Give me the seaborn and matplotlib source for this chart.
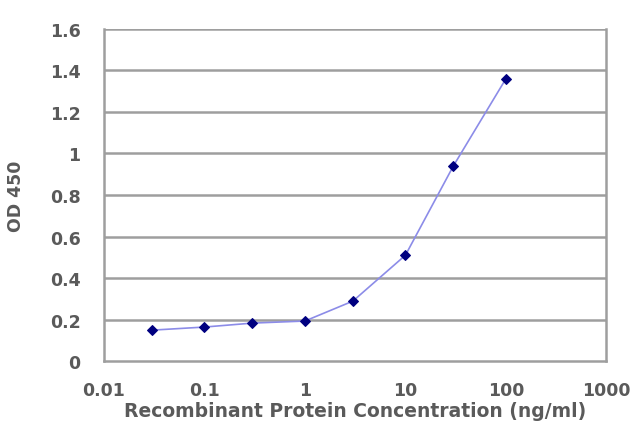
import matplotlib
matplotlib.use("Agg")
import matplotlib.pyplot as plt
import matplotlib.ticker as mticker
import seaborn as sns
import pandas as pd

concentration = [0.03, 0.1, 0.3, 1, 3, 10, 30, 100]
od450 = [0.149, 0.164, 0.183, 0.193, 0.289, 0.51, 0.94, 1.36]
x_ticks = [0.01, 0.1, 1, 10, 100, 1000]
x_tick_labels = ["0.01", "0.1", "1", "10", "100", "1000"]
y_ticks = [0, 0.2, 0.4, 0.6, 0.8, 1.0, 1.2, 1.4, 1.6]
y_tick_labels = ["0", "0.2", "0.4", "0.6", "0.8", "1", "1.2", "1.4", "1.6"]

df = pd.DataFrame({"conc": concentration, "od": od450})

sns.set_style("white")
plt.rcParams['font.family'] = ['DejaVu Sans']

fig = plt.figure(figsize=(6.4, 4.27), dpi=100)
ax = fig.add_axes([0.1625, 0.152, 0.785, 0.778])

ax.set_xscale("log")
sns.lineplot(data=df, x="conc", y="od", ax=ax, color="#8c8ce8", linewidth=1.2,
             marker="D", markersize=5.5, markerfacecolor="#000080",
             markeredgecolor="#000080")

ax.set_xlim(0.01, 1000)
ax.set_ylim(0, 1.6)
ax.set_xticks(x_ticks)
ax.xaxis.set_major_formatter(mticker.FixedFormatter(x_tick_labels))
ax.xaxis.set_minor_locator(mticker.NullLocator())
ax.set_yticks(y_ticks)
ax.set_yticklabels(y_tick_labels)

for y in y_ticks[1:]:
    ax.axhline(y, color="#9e9e9e", linewidth=1.8, zorder=0)

for s in ax.spines.values():
    s.set_color("#9e9e9e")
    s.set_linewidth(1.8)
ax.spines["top"].set_visible(False)

label_color = "#5a5a5a"
ax.tick_params(axis="both", which="major", length=3, width=1.2, color="#9e9e9e",
               direction="out", labelsize=12.5, labelcolor=label_color)
ax.tick_params(axis="x", pad=11)
ax.tick_params(axis="y", pad=14)
for lbl in ax.get_xticklabels() + ax.get_yticklabels():
    lbl.set_fontweight("bold")

ax.set_xlabel("Recombinant Protein Concentration (ng/ml)", fontsize=13.5,
              fontweight="bold", color=label_color, labelpad=2)
ax.set_ylabel("OD 450", fontsize=12.5, fontweight="bold", color=label_color,
              labelpad=18)

fig.savefig("out.png", dpi=100)
